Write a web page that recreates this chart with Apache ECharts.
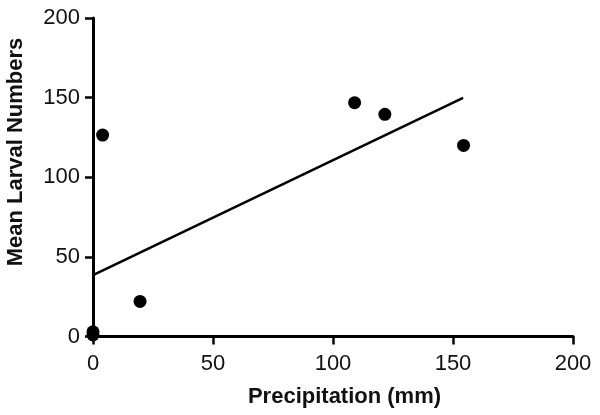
<!DOCTYPE html>
<html><head><meta charset="utf-8">
<script src="https://cdn.jsdelivr.net/npm/echarts@6/dist/echarts.min.js"></script>
<style>html,body{margin:0;padding:0;background:#fff}#c{width:600px;height:415px}</style>
</head><body><div id="c"></div>
<script>
const precipitation = [0, 0, 4, 19.6, 109, 121.6, 154.4];
const larvae = [1, 3, 126.5, 22, 146.8, 139.5, 120];
const fitX = [0, 154.2];
const fitY = [38.5, 149.8];
const xTicks = [0, 50, 100, 150, 200];
const yTicks = [0, 50, 100, 150, 200];
const xTitle = 'Precipitation (mm)';
const yTitle = 'Mean Larval Numbers';

const FONT = 'Liberation Sans, Arial, Helvetica, sans-serif';
const chart = echarts.init(document.getElementById('c'));
const axisCommon = {
  axisLine: {show: true, onZero: false, lineStyle: {color: '#000', width: 3}},
  axisTick: {show: true, length: 8, lineStyle: {color: '#000', width: 2.5}},
  splitLine: {show: false},
  axisLabel: {color: '#111', fontSize: 22, fontFamily: FONT}
};
chart.setOption({
  animation: false,
  grid: {left: 93, right: 27, top: 18, bottom: 78.5},
  xAxis: Object.assign({}, axisCommon, {
    type: 'value', min: xTicks[0], max: xTicks[xTicks.length-1], interval: 50,
    axisLabel: Object.assign({}, axisCommon.axisLabel, {margin: 16})
  }),
  yAxis: Object.assign({}, axisCommon, {
    type: 'value', min: yTicks[0], max: yTicks[yTicks.length-1], interval: 50,
    axisLabel: Object.assign({}, axisCommon.axisLabel, {margin: 13})
  }),
  graphic: [
    {type: 'text', x: 344.5, y: 397, style: {text: xTitle, fill: '#111', fontSize: 22, fontWeight: 'bold', fontFamily: FONT, align: 'center', verticalAlign: 'middle'}},
    {type: 'text', x: 16, y: 152, rotation: Math.PI / 2, style: {text: yTitle, fill: '#111', fontSize: 22, fontWeight: 'bold', fontFamily: FONT, align: 'center', verticalAlign: 'middle'}}
  ],
  series: [
    {type: 'line', data: fitX.map((x, i) => [x, fitY[i]]), symbol: 'none',
     lineStyle: {color: '#000', width: 2.5}, z: 2},
    {type: 'scatter', data: precipitation.map((x, i) => [x, larvae[i]]),
     symbolSize: 13, itemStyle: {color: '#000', opacity: 1}, z: 3}
  ]
});
</script></body></html>
